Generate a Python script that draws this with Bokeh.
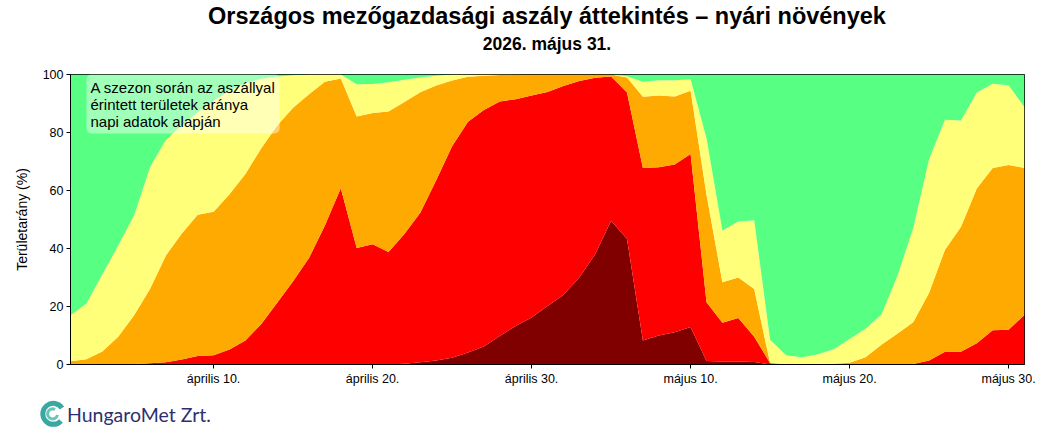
import pandas as pd
from bokeh.plotting import figure
from bokeh.models import ColumnDataSource, FixedTicker, Label, Range1d, Div
from bokeh.layouts import column
from bokeh.embed import file_html
from bokeh.resources import INLINE

# ---- data (percent of area, daily, 2026-04-01 .. 2026-05-31) ----
dates = pd.date_range("2026-04-01", "2026-05-31", freq="D")

rendkivuli = [0]*21 + [0.3, 0.8, 1.4, 2.3, 4.1, 6.2, 9.8, 13.3, 16.2, 20.2, 24, 30, 38, 49.6,
                       43.3, 8.3, 10, 11.1, 12.9, 1.2, 1, 1, 0.9] + [0]*17
sulyos = [0, 0, 0, 0, 0.2, 0.4, 0.8, 1.7, 2.9, 3.2,
          5.2, 8.3, 14, 21.3, 28.7, 36.7, 47.9, 60.8, 40.2, 41.5,
          38.8, 44.7, 51.5, 62.1, 73, 79.6, 81.6, 80.9, 78.2, 76.6,
          73.8, 72, 67.8, 60.9, 49.7, 50.5, 59.5, 58, 57.9, 59.7,
          20.3, 13.4, 15, 8.7, 0.4, 0, 0, 0, 0, 0,
          0, 0, 0, 0.2, 1.4, 4.4, 4.4, 7.3, 11.8, 12, 17.1]
mersekelt = [1.1, 1.8, 4.5, 9.6, 16.8, 25.6, 36.8, 43.5, 48.7, 49.5,
             53.5, 57.4, 60.6, 61.1, 59.8, 56.5, 49.6, 37.8, 45.3, 45.2,
             48.4, 45.5, 41.6, 32.7, 22.6, 15.5, 11.8, 9.1, 8.4, 7.2,
             6, 4, 2.2, 1.1, 0.7, 5.2, 24.5, 24.8, 23.4, 21.8,
             37, 14, 14, 16.4, 0.1, 0.2, 0.2, 0.2, 0.3, 0.6,
             2.5, 6.8, 10.6, 14.4, 23.3, 35.2, 43, 53.4, 56, 56.8, 50.7]
enyhe = [15.9, 19.2, 26.5, 31.4, 34.5, 42, 39.9, 37.3, 35.4, 38.3,
         35.8, 31.3, 23.9, 16.9, 11.2, 6.8, 2.5, 1.4, 11.1, 10,
         10.1, 7.7, 5.1, 3.4, 2.1, 0.8, 0.4, 0.2, 0.1, 0,
         0, 0, 0, 0, 0, 0.4, 5.2, 5.2, 5.6, 4,
         19.5, 17.8, 19.3, 23.7, 8, 3, 2.3, 3.3, 5, 8.2,
         9.8, 10.4, 19.8, 32.4, 46.2, 44.8, 36.7, 33.1, 29, 27.5, 20.9]
nincs = [83, 79, 69, 59, 48.5, 32, 22.5, 17.5, 13, 9,
         5.5, 3, 1.5, 0.7, 0.3, 0, 0, 0, 3.4, 3.3,
         2.7, 1.8, 1, 0.4, 0, 0, 0, 0, 0, 0,
         0, 0, 0, 0, 0, 0.6, 2.5, 2, 2, 1.6,
         22, 53.8, 50.7, 50.3, 91.5, 96.8, 97.5, 96.5, 94.7, 91.2,
         87.7, 82.8, 69.6, 53, 29.1, 15.6, 15.9, 6.2, 3.2, 3.7, 11.3]

categories = ["rendkivuli", "sulyos", "mersekelt", "enyhe", "nincs"]
colors = ["#800000", "#FF0000", "#FFAA00", "#FFFF7A", "#57FF82"]

tick_dates = ["2026-04-10", "2026-04-20", "2026-04-30", "2026-05-10", "2026-05-20", "2026-05-30"]
tick_labels = ["április 10.", "április 20.", "április 30.", "május 10.", "május 20.", "május 30."]
y_ticks = [0, 20, 40, 60, 80, 100]

title = "Országos mezőgazdasági aszály áttekintés – nyári növények"
subtitle = "2026. május 31."
note = "A szezon során az aszállyal\nérintett területek aránya\nnapi adatok alapján"

# ---- header ----
header_html = (
    '<div style="position:relative;width:1056px;height:60px;background:white;'
    'font-family:\'Liberation Sans\';font-weight:bold;color:black;">'
    '<div style="position:absolute;left:0;top:2px;width:1094px;text-align:center;'
    'font-size:23.5px;line-height:28px;white-space:nowrap;">' + title + '</div>'
    '<div style="position:absolute;left:0;top:34px;width:1094px;text-align:center;'
    'font-size:17.5px;line-height:20px;white-space:nowrap;">' + subtitle + '</div>'
    '</div>'
)
header = Div(text=header_html, width=1056, height=60, margin=(0, 0, 0, 0))

# ---- figure ----
src = ColumnDataSource(dict(date=dates, rendkivuli=rendkivuli, sulyos=sulyos,
                            mersekelt=mersekelt, enyhe=enyhe, nincs=nincs))

def ms(d):
    return pd.Timestamp(d).value // 10**6

x0, x1 = ms(dates[0]), ms(dates[-1])

p = figure(width=1056, height=335, x_axis_type="datetime",
           x_range=Range1d(x0, x1), y_range=Range1d(0, 100),
           output_backend="svg", toolbar_location=None,
           min_border_left=70, min_border_right=32, min_border_top=14, min_border_bottom=31)
p.varea_stack(stackers=categories, x="date", color=colors, source=src)

p.xgrid.visible = False
p.ygrid.visible = False
p.outline_line_color = "black"
p.outline_line_width = 1
p.background_fill_color = "white"
p.border_fill_color = "white"

tick_ms = [ms(d) for d in tick_dates]
p.xaxis.ticker = FixedTicker(ticks=tick_ms)
p.xaxis.major_label_overrides = {t: l for t, l in zip(tick_ms, tick_labels)}
p.yaxis.ticker = FixedTicker(ticks=y_ticks)

for ax in (p.xaxis, p.yaxis):
    ax.axis_line_color = "black"
    ax.major_tick_line_color = "black"
    ax.major_tick_out = 4
    ax.major_tick_in = 0
    ax.minor_tick_line_color = None
    ax.major_label_text_font = "Liberation Sans"
    ax.major_label_text_font_size = "12.5px"
    ax.major_label_text_color = "black"
    ax.major_label_standoff = 3

p.yaxis.axis_label = "Területarány (%)"
p.yaxis.axis_label_text_font = "Liberation Sans"
p.yaxis.axis_label_text_font_size = "14px"
p.yaxis.axis_label_text_font_style = "normal"
p.yaxis.axis_label_text_color = "black"
p.yaxis.axis_label_standoff = 10

p.add_layout(Label(x=x0, y=100, x_offset=16, y_offset=0, text=note, anchor="top_left",
                   text_align="left", text_baseline="top", text_font="Liberation Sans",
                   text_font_size="15px", text_color="black", text_line_height=1.0,
                   padding=4, background_fill_color="white", background_fill_alpha=0.45,
                   border_radius=5))

# ---- logo strip ----
logo_html = (
    '<div style="position:relative;width:1056px;height:38px;background:white;">'
    '<svg width="30" height="30" style="position:absolute;left:38px;top:4px">'
    '<path d="M 24 9 A 10.5 10.5 0 1 0 23 22" stroke="#3aa7a3" stroke-width="5" fill="none"/>'
    '<path d="M 17 10.5 A 5 5 0 1 0 19.5 16" stroke="#6cc4b8" stroke-width="3" fill="none"/>'
    '</svg>'
    '<span style="position:absolute;left:67px;top:6px;font-family:Lato;font-size:19.5px;'
    'color:#2c3070;white-space:nowrap;">HungaroMet Zrt.</span></div>'
)
logo = Div(text=logo_html, width=1056, height=38, margin=(0, 0, 0, 0))

open("out.html", "w").write(file_html(column(header, p, logo, spacing=0), INLINE))
